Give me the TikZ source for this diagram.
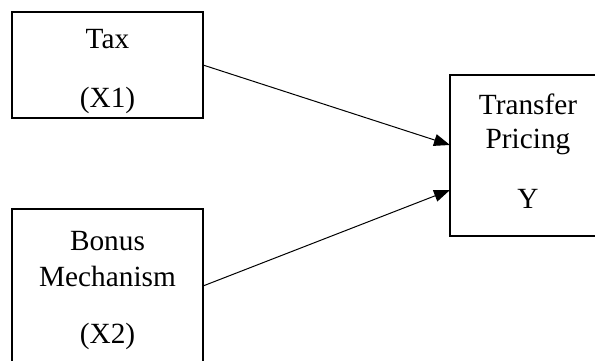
\documentclass[tikz,border=0pt]{standalone}
\usepackage{fontspec}
\setmainfont{Liberation Serif}
\usetikzlibrary{arrows.meta}
\begin{document}
\begin{tikzpicture}[x=1pt,y=-1pt,
  box/.style={draw, line width=2pt, inner sep=0pt, outer sep=0pt, anchor=north west},
  lbl/.style={anchor=base, inner sep=0pt, font=\fontsize{29.3}{35}\selectfont},
  conn/.style={line width=1pt, -{Triangle[length=16pt,width=12pt]}}]
\useasboundingbox (0,0) rectangle (595,361);
\node[box, minimum width=191pt, minimum height=106pt] (tax) at (12,12) {};
\node[box, minimum width=191pt, minimum height=171pt] (bonus) at (12,209) {};
\node[box, minimum width=156pt, minimum height=161pt] (tp) at (450,75) {};
\node[lbl] (t1) at (107.5,49) {Tax};
\node[lbl] (t2) at (107.5,107) {(X1)};
\node[lbl] (b1) at (107.5,250) {Bonus};
\node[lbl] (b2) at (107.5,286) {Mechanism};
\node[lbl] (b3) at (107.5,343) {(X2)};
\node[lbl] (p1) at (528,114) {Transfer};
\node[lbl] (p2) at (528,149) {Pricing};
\node[lbl] (p3) at (528,208) {Y};
\coordinate (bonusout) at (203,286);
\coordinate (tpin1) at (450,145);
\coordinate (tpin2) at (450,190);
\draw[conn] (tax.east) -- (tpin1);
\draw[conn] (bonusout) -- (tpin2);
\end{tikzpicture}
\end{document}
